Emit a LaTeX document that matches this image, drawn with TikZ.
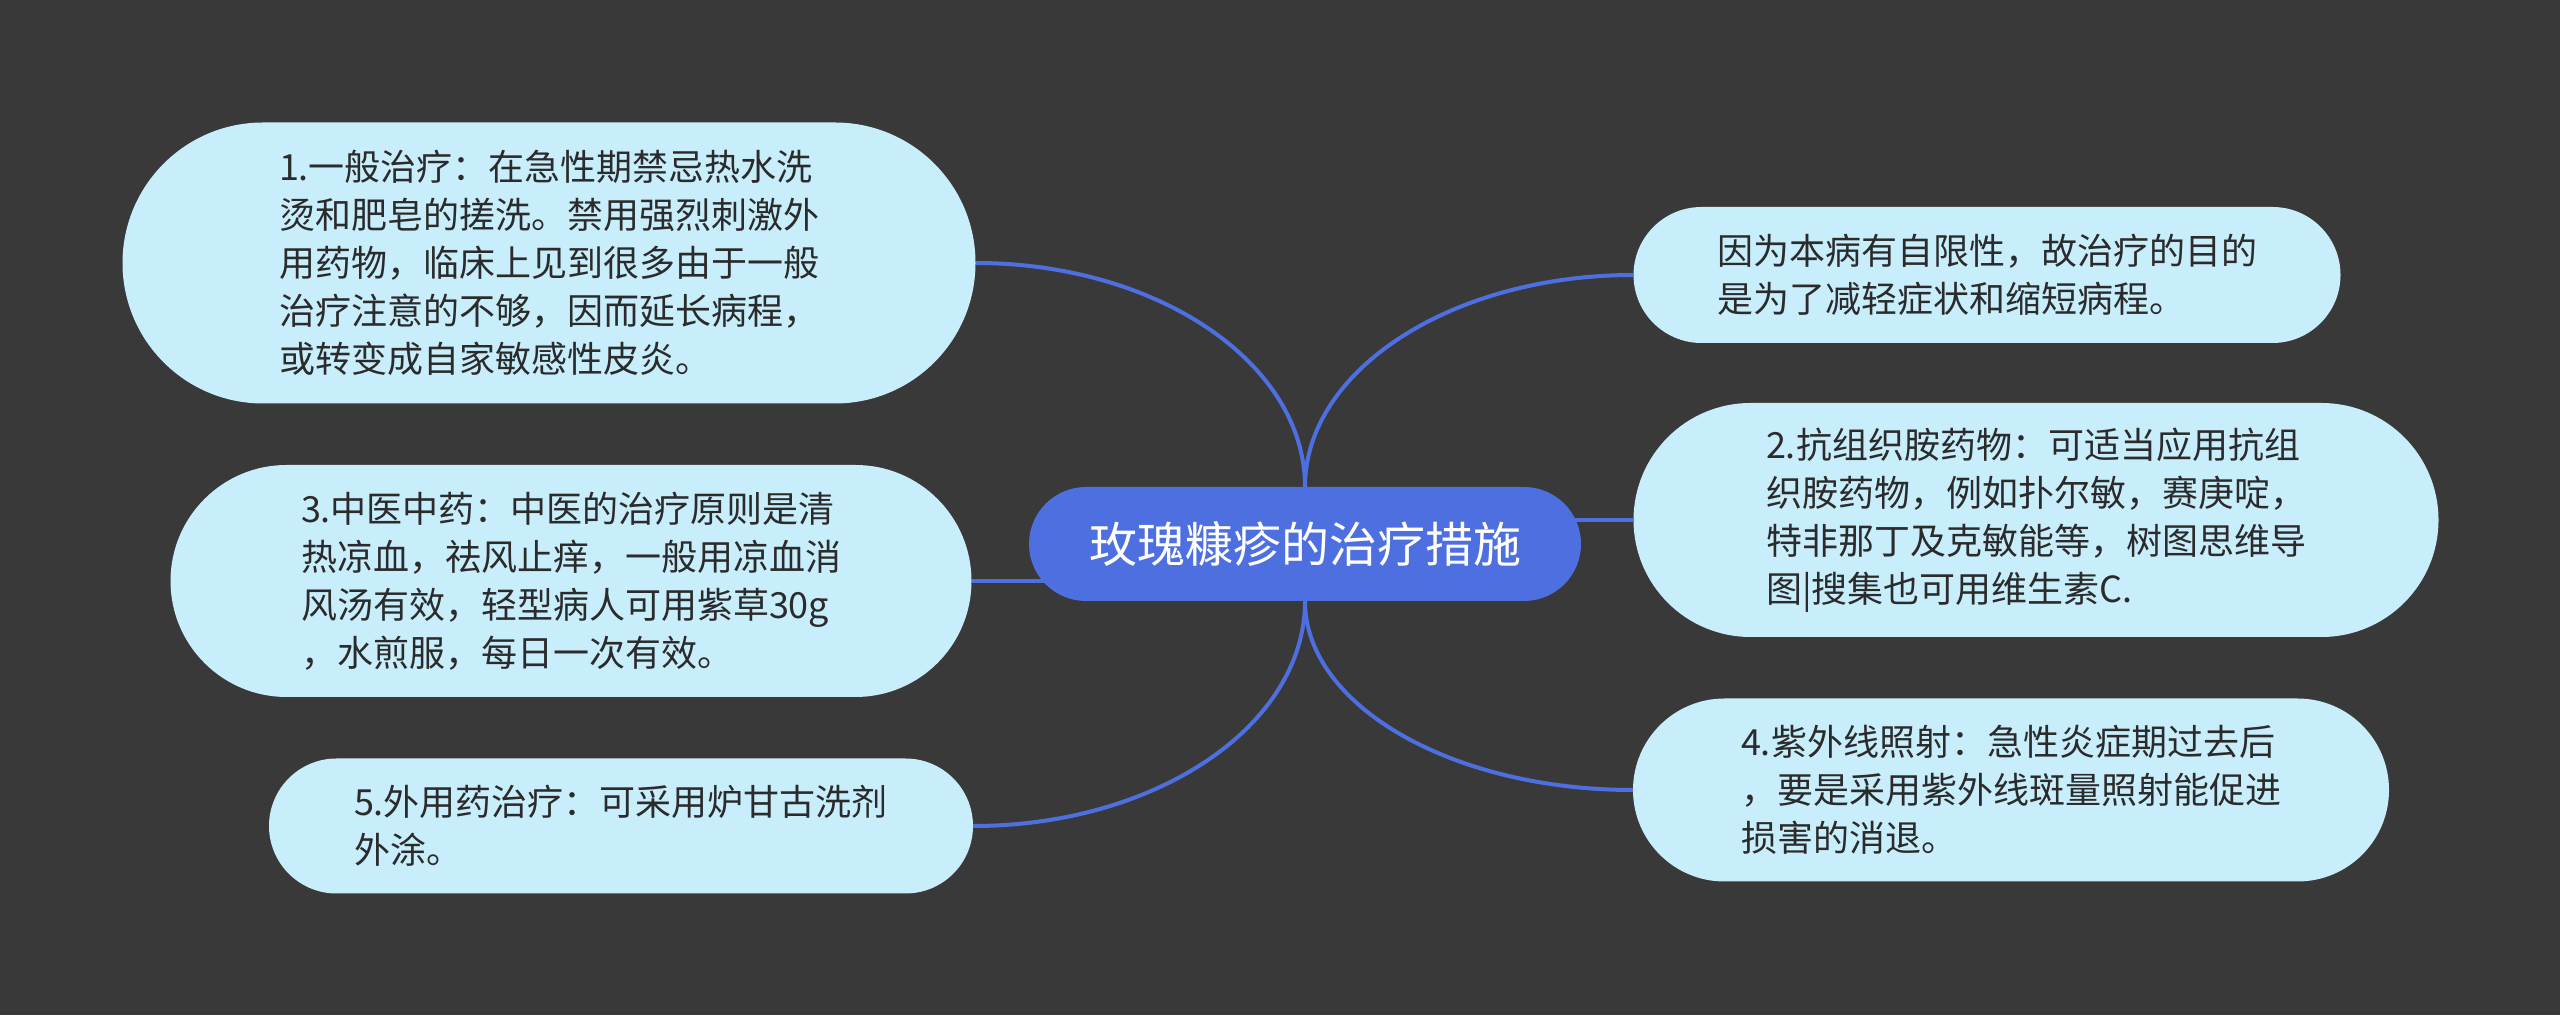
\documentclass[tikz,border=0pt]{standalone}
\usepackage{fontspec}
\newfontfamily\cjk{Noto Sans CJK SC}
\usetikzlibrary{shapes.misc, calc}
\definecolor{bgc}{HTML}{3A393A}
\definecolor{leafc}{HTML}{C8EEFC}
\definecolor{rootc}{HTML}{4D6FE0}
\definecolor{txtc}{HTML}{2B2B2B}
\pgfdeclarelayer{back}
\pgfdeclarelayer{links}
\pgfsetlayers{back,links,main}
\tikzset{
    root/.style={rounded rectangle, fill=rootc, text=white, inner sep=0pt,
        font=\cjk\fontsize{48}{58}\selectfont},
    leaf/.style={rounded rectangle, fill=leafc, text=txtc, inner sep=0pt, align=left,
        font=\cjk\fontsize{36}{48}\selectfont},
    link/.style={draw=rootc, line width=4pt}
}
\newcommand{\branch}[2]{\draw[link](#1) .. controls ($(#1)!0.552!(#1 |- #2)$) and ($(#2)!0.552!(#1 |- #2)$) .. (#2);}

\begin{document}
\begin{tikzpicture}[x=1pt, y=1pt]
    \useasboundingbox(0, 0) rectangle (2560, 1015);
    \node[root, minimum width=552, minimum height=114](c) at (1305, 471) {玫瑰糠疹的治疗措施};
    \node[leaf, minimum width=853, minimum height=281](n1) at (549, 752) {1.一般治疗：在急性期禁忌热水洗\\烫和肥皂的搓洗。禁用强烈刺激外\\用药物，临床上见到很多由于一般\\治疗注意的不够，因而延长病程，\\或转变成自家敏感性皮炎。};
    \node[leaf, minimum width=801, minimum height=232](n3) at (571, 434) {3.中医中药：中医的治疗原则是清\\热凉血，祛风止痒，一般用凉血消\\风汤有效，轻型病人可用紫草30g\\，水煎服，每日一次有效。};
    \node[leaf, minimum width=704, minimum height=135](n5) at (621, 189) {5.外用药治疗：可采用炉甘古洗剂\\外涂。};
    \node[leaf, minimum width=707, minimum height=136](n0) at (1987, 740) {因为本病有自限性，故治疗的目的\\是为了减轻症状和缩短病程。};
    \node[leaf, minimum width=805, minimum height=234](n2) at (2036, 495) {2.抗组织胺药物：可适当应用抗组\\织胺药物，例如扑尔敏，赛庚啶，\\特非那丁及克敏能等，树图思维导\\图|搜集也可用维生素C.};
    \node[leaf, minimum width=756, minimum height=183](n4) at (2011, 225) {4.紫外线照射：急性炎症期过去后\\，要是采用紫外线斑量照射能促进\\损害的消退。};
    \begin{pgfonlayer}{back}
        \fill[bgc](0, 0) rectangle (2560, 1015);
    \end{pgfonlayer}
    \begin{pgfonlayer}{links}
        \branch{c.north}{n1.east}
        \branch{c.north}{n0.west}
        \branch{c.south}{n5.east}
        \branch{c.south}{n4.west}
        \draw[link](n3.east)--(n3.east -| c.center);
        \draw[link](n2.west)--(n2.west -| c.center);
    \end{pgfonlayer}
\end{tikzpicture}
\end{document}
